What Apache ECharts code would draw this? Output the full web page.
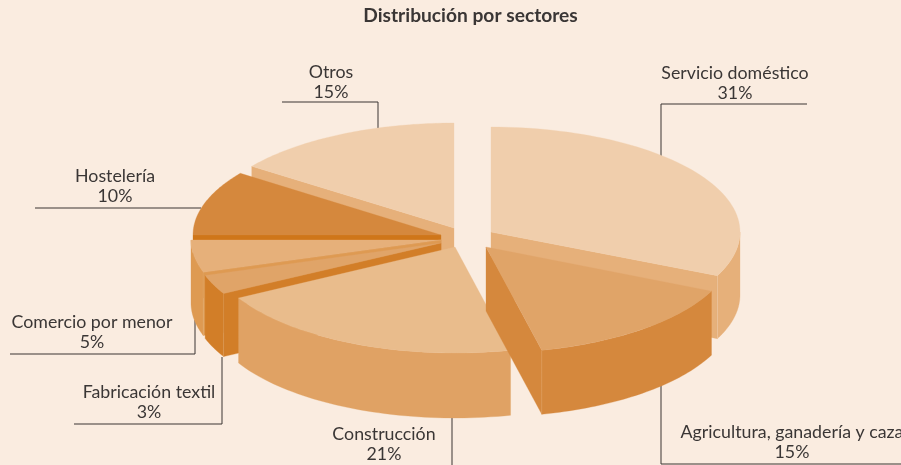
<!DOCTYPE html>
<html><head><meta charset="utf-8">
<style>html,body{margin:0;padding:0;background:#faece0;overflow:hidden}#c{width:901px;height:465px}</style>
<script src="https://cdn.jsdelivr.net/npm/echarts@6/dist/echarts.min.js"></script>
</head><body><div id="c"></div>
<script>
const categories = ['Servicio doméstico','Agricultura, ganadería y caza','Construcción','Fabricación textil','Comercio por menor','Hostelería','Otros'];
const values = [31,15,21,3,5,10,15];

// Layout and styling only, not data
const FONT = 'Lato';
const angleNudge = [0,3,1.4,0,0,0,0,0];
const tips = [[491,232,249,105,63],[486,247,248,106,64],[455,247,247,106,65],[441,243,248,105,63],[441,240,250,105,63],[441,235,248,105,63],[454,228,250,105,63]];
const topColors = ['#f0ceac','#e0a468','#e9bc8c','#e0a468','#e6b07a','#d5883d','#f0ceac'];
const sideColors = ['#e6b07a','#d5883d','#e0a264','#d27e28','#de9a52','#cf7619','#e6b07a'];
const drawRank = [1,6,5,4,3,2,0];
const labelPos = [[735,73],[792,432],[384,434],[149,392],[92,322],[115,176],[331,72]];
const leaders = [
  [[661,175],[661,104],[807,104]],
  [[661,385],[661,464],[901,464]],
  [[452,417],[452,465]],
  [[222,357],[222,424],[74,424]],
  [[195,320],[195,354],[10,354]],
  [[201,208],[35,208]],
  [[378,128],[378,102],[282,102]]
];

const total = values.reduce((a,b)=>a+b,0);
const bounds = [0];
values.forEach((v,i)=>bounds.push(bounds[i]+v/total*360));

function renderItem(params, api){
  const i = params.dataIndex;
  const [cx,cy,rx,ry,DEPTH] = tips[i];
  const a0 = (bounds[i]+angleNudge[i])*Math.PI/180;
  const a1 = (bounds[i+1]+angleNudge[i+1])*Math.PI/180;
  const pt = (a,d)=>[cx+rx*Math.sin(a), cy-ry*Math.cos(a)+d];
  const base = drawRank[i]*10;
  const kids = [];
  const poly = (points,fill,z)=>kids.push({type:'polygon',shape:{points},style:{fill,stroke:fill,lineWidth:0.3},z2:z,silent:true});
  const seam = (a)=>{const p=pt(a,0),q=pt(a,DEPTH);kids.push({type:'line',shape:{x1:p[0],y1:p[1],x2:q[0],y2:q[1]},style:{stroke:topColors[i],lineWidth:0.6,opacity:0.8},z2:base+2,silent:true});};
  // visible radial cut faces
  const tipTop=[cx,cy], tipBot=[cx,cy+DEPTH];
  if(Math.sin(a0)<-1e-6){ poly([tipTop,pt(a0,0),pt(a0,DEPTH),tipBot],sideColors[i],base); }
  if(Math.sin(a1)>1e-6){ poly([tipTop,pt(a1,0),pt(a1,DEPTH),tipBot],sideColors[i],base); }
  // outer wall
  const h=Math.PI/2, lo=Math.max(a0,h), hi=Math.min(a1,3*h);
  if(hi>lo){
    const upper=[],lower=[];
    for(let k=0;k<=48;k++){const a=lo+(hi-lo)*k/48;upper.push(pt(a,0));lower.unshift(pt(a,DEPTH));}
    poly(upper.concat(lower),sideColors[i],base+1);
  }
  if(Math.sin(a1)>1e-6 && a1>h) seam(a1);
  if(Math.sin(a0)<-1e-6 && a0<3*h) seam(a0);
  // top face
  const face=[tipTop];
  for(let k=0;k<=64;k++){face.push(pt(a0+(a1-a0)*k/64,0));}
  poly(face,topColors[i],base+3);
  // leader
  kids.push({type:'polyline',shape:{points:leaders[i]},style:{fill:'none',stroke:'#3a3533',lineWidth:1},z2:-5,silent:true});
  // labels
  const lp=labelPos[i];
  kids.push({type:'text',style:{text:api.value(1),x:lp[0],y:lp[1],align:'center',verticalAlign:'middle',fill:'#3a3635',font:'17.8px '+FONT},z2:200,silent:true});
  kids.push({type:'text',style:{text:api.value(0)+'%',x:lp[0],y:lp[1]+20,align:'center',verticalAlign:'middle',fill:'#3a3635',font:'17.8px '+FONT},z2:200,silent:true});
  return {type:'group',children:kids};
}

const chart = echarts.init(document.getElementById('c'),null,{renderer:'canvas'});
chart.setOption({
  animation:false,
  backgroundColor:'#faece0',
  title:{text:'Distribución por sectores',left:470.5,textAlign:'right',top:3,padding:[5,0,5,0],textStyle:{fontFamily:FONT,fontSize:19.2,fontWeight:'bold',color:'#3a3635'},show:false},
  graphic:[{type:'text',silent:true,style:{text:'Distribución por sectores',x:470.5,y:16,align:'center',verticalAlign:'middle',fill:'#3a3635',font:'bold 19.2px '+FONT}}],
  series:[{
    type:'custom',
    coordinateSystem:'none',
    silent:true,
    clip:false,
    encode:{},
    data:values.map((v,i)=>({value:[v,categories[i]]})),
    dimensions:[{name:'v',type:'number'},{name:'c',type:'ordinal'}],
    renderItem
  }]
});
</script></body></html>
